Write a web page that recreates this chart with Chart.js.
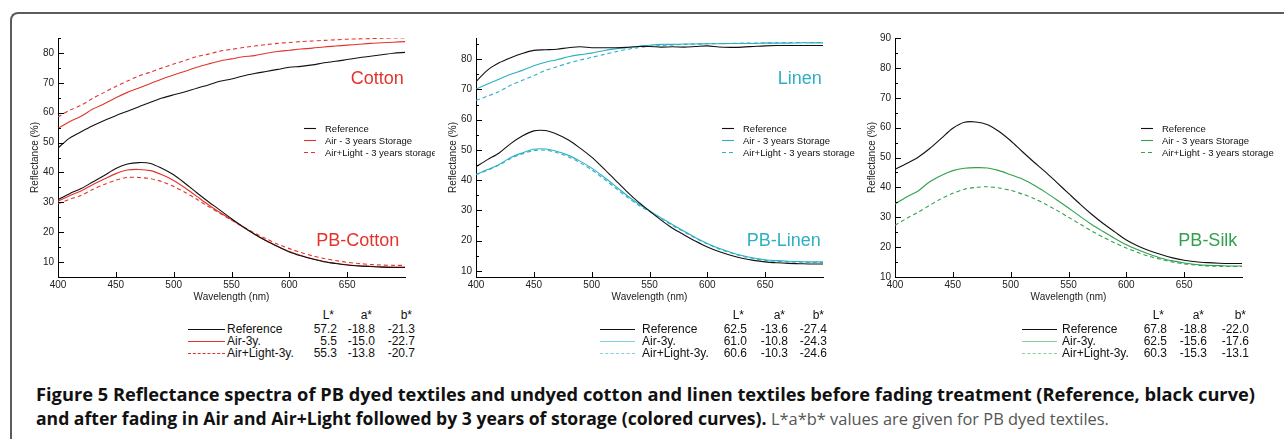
<!DOCTYPE html>
<html>
<head>
<meta charset="utf-8">
<script src="https://cdn.jsdelivr.net/npm/chart.js@4.4.0/dist/chart.umd.min.js"></script>
<style>
  body { margin: 0; width: 1284px; height: 439px; background: #fff; overflow: hidden; position: relative; font-family: "Liberation Sans", Arial, sans-serif; }
  .frame { position: absolute; left: 10px; top: 12px; width: 1400px; height: 600px; border-top: 2px solid #5c5c5c; border-left: 2px solid #5c5c5c; border-top-left-radius: 8px; }
  canvas.panel { position: absolute; }
  .cell { position: absolute; font-size: 12px; line-height: 14px; color: #111; white-space: nowrap; }
  .swatch { position: absolute; height: 0; }
  .caption { position: absolute; left: 36px; font-family: "Open Sans", sans-serif; font-size: 17px; line-height: 25px; color: #111; white-space: nowrap; }
  .caption b { font-weight: 700; }
  .caption span { color: #555; font-weight: 400; }
</style>
</head>
<body>
<div class="frame"></div>
<canvas id="cottonChart" class="panel" width="420" height="280" style="left:15px;top:28px"></canvas>
<canvas id="linenChart" class="panel" width="435" height="280" style="left:433px;top:28px"></canvas>
<canvas id="silkChart" class="panel" width="432" height="280" style="left:852px;top:28px"></canvas>
<div id="tables"></div>
<div class="caption" style="top:381px"><b id="capLine1">Figure 5 Reflectance spectra of PB dyed textiles and undyed cotton and linen textiles before fading treatment (Reference, black curve)</b></div>
<div class="caption" style="top:406px"><b id="capLine2">and after fading in Air and Air+Light followed by 3 years of storage (colored curves).</b> <span id="capGrey">L*a*b* values are given for PB dyed textiles.</span></div>
<script>
const wavelengths = [400, 410, 420, 430, 440, 450, 460, 470, 480, 490, 500, 510, 520, 530, 540, 550,
  560, 570, 580, 590, 600, 610, 620, 630, 640, 650, 660, 670, 680, 690, 700];
const xTicks = [400, 450, 500, 550, 600, 650];
const yTicksCotton = [10, 20, 30, 40, 50, 60, 70, 80];
const yTicksLinen = [10, 20, 30, 40, 50, 60, 70, 80];
const yTicksSilk = [10, 20, 30, 40, 50, 60, 70, 80, 90];

// cotton (undyed) and PB-cotton
const cottonRef = [48.2, 51.5, 53.6, 55.6, 57.4, 59.0, 60.5, 62.0, 63.5, 64.9, 66.0, 67.0, 68.2, 69.3, 70.5, 71.3,
  72.3, 73.1, 73.8, 74.5, 75.2, 75.5, 76.0, 76.7, 77.2, 77.8, 78.4, 78.9, 79.4, 79.9, 80.2];
const cottonAir = [54.7, 57.0, 58.8, 61.2, 63.0, 65.0, 66.8, 68.3, 69.8, 71.3, 72.6, 73.9, 75.2, 76.3, 77.3, 78.0,
  78.7, 79.1, 79.9, 80.5, 80.9, 81.3, 81.6, 82.0, 82.3, 82.6, 82.9, 83.2, 83.4, 83.6, 83.8];
const cottonAirLight = [58.6, 60.8, 62.5, 64.8, 66.8, 68.8, 70.6, 72.3, 73.6, 75.0, 76.3, 77.5, 78.8, 79.6, 80.6, 81.2,
  81.8, 82.3, 82.8, 83.2, 83.5, 83.8, 84.0, 84.2, 84.4, 84.6, 84.7, 84.8, 84.9, 85.0, 85.1];
const pbCottonRef = [30.9, 32.9, 34.6, 36.8, 39.0, 41.3, 42.8, 43.3, 43.0, 41.3, 39.2, 36.3, 33.2, 30.2, 27.4, 24.5,
  21.8, 19.3, 17.1, 15.2, 13.4, 12.1, 11.0, 10.1, 9.5, 9.0, 8.7, 8.5, 8.3, 8.2, 8.2];
const pbCottonAir = [30.3, 32.2, 33.8, 35.9, 37.8, 39.6, 40.8, 41.0, 40.6, 39.2, 37.3, 34.8, 32.0, 29.2, 26.6, 24.2,
  21.7, 19.3, 17.1, 15.2, 13.5, 12.2, 11.1, 10.2, 9.6, 9.1, 8.8, 8.6, 8.4, 8.3, 8.3];
const pbCottonAirLight = [29.5, 31.0, 32.3, 34.3, 36.0, 37.4, 38.3, 38.3, 37.9, 36.9, 35.3, 33.3, 31.0, 28.6, 26.3, 24.0,
  21.8, 19.7, 17.8, 16.0, 14.5, 13.2, 12.1, 11.2, 10.5, 9.9, 9.5, 9.2, 9.0, 8.9, 8.9];

// linen (undyed) and PB-linen
const linenRef = [72.6, 76.4, 78.8, 80.5, 81.9, 82.9, 83.1, 83.3, 83.8, 84.1, 83.8, 83.8, 83.8, 83.9, 84.2, 84.2,
  84.0, 84.1, 84.0, 84.2, 84.4, 84.0, 83.9, 84.0, 84.2, 84.4, 84.5, 84.5, 84.5, 84.5, 84.5];
const linenAir = [70.1, 71.8, 73.4, 75.0, 76.3, 77.8, 79.0, 79.8, 80.8, 81.5, 82.0, 82.8, 83.4, 83.8, 84.2, 84.6,
  84.9, 84.9, 85.0, 85.0, 85.1, 85.1, 85.2, 85.2, 85.2, 85.3, 85.3, 85.3, 85.4, 85.4, 85.4];
const linenAirLight = [66.4, 67.8, 69.3, 71.4, 73.0, 74.6, 76.3, 77.5, 78.7, 79.7, 80.6, 81.5, 82.4, 83.2, 83.8, 84.2,
  84.5, 84.7, 84.9, 85.0, 85.1, 85.2, 85.2, 85.3, 85.3, 85.4, 85.4, 85.5, 85.5, 85.5, 85.5];
const pbLinenRef = [44.4, 46.8, 49.0, 52.1, 54.6, 56.3, 56.4, 55.2, 53.3, 50.6, 47.6, 44.0, 40.2, 36.4, 32.9, 29.8,
  26.8, 24.1, 21.9, 19.8, 17.9, 16.4, 15.2, 14.2, 13.5, 13.0, 12.7, 12.5, 12.4, 12.3, 12.3];
const pbLinenAir = [41.9, 43.5, 45.2, 47.5, 49.0, 50.2, 50.3, 49.5, 48.2, 46.3, 44.0, 41.2, 38.2, 35.1, 32.3, 29.9,
  27.5, 25.3, 23.1, 21.0, 19.1, 17.5, 16.2, 15.1, 14.3, 13.7, 13.4, 13.2, 13.1, 13.0, 13.0];
const pbLinenAirLight = [41.8, 43.3, 45.0, 47.2, 48.7, 49.8, 49.9, 49.1, 47.7, 45.8, 43.4, 40.6, 37.6, 34.6, 31.9, 29.6,
  27.3, 25.0, 22.9, 20.8, 18.9, 17.3, 16.0, 14.9, 14.1, 13.5, 13.2, 13.0, 12.9, 12.8, 12.8];

// PB-silk
const pbSilkRef = [46.0, 48.0, 50.1, 53.0, 56.4, 59.8, 61.8, 61.9, 61.0, 58.7, 55.6, 52.0, 48.5, 45.2, 41.6, 38.0,
  34.4, 31.0, 27.9, 25.1, 22.4, 20.4, 18.8, 17.5, 16.4, 15.6, 15.1, 14.8, 14.6, 14.5, 14.5];
const pbSilkAir = [34.4, 36.8, 38.8, 41.9, 44.0, 45.6, 46.4, 46.6, 46.5, 45.6, 44.2, 42.8, 40.8, 38.4, 35.8, 33.1,
  30.3, 27.6, 25.2, 22.9, 20.8, 19.1, 17.6, 16.3, 15.4, 14.7, 14.2, 13.9, 13.8, 13.7, 13.7];
const pbSilkAirLight = [27.3, 29.6, 31.7, 34.0, 36.2, 38.0, 39.4, 40.0, 40.2, 39.8, 39.0, 37.8, 36.3, 34.4, 32.3, 30.0,
  27.7, 25.4, 23.3, 21.4, 19.7, 18.2, 16.9, 15.9, 15.0, 14.4, 14.0, 13.7, 13.6, 13.5, 13.5];

const seriesLabels = ["Reference", "Air - 3 years Storage", "Air+Light - 3 years storage"];
const tableRows = ["Reference", "Air-3y.", "Air+Light-3y."];
const tableHeaders = ["L*", "a*", "b*"];
const cottonLab = [["57.2", "-18.8", "-21.3"], ["5.5", "-15.0", "-22.7"], ["55.3", "-13.8", "-20.7"]];
const linenLab = [["62.5", "-13.6", "-27.4"], ["61.0", "-10.8", "-24.3"], ["60.6", "-10.3", "-24.6"]];
const silkLab = [["67.8", "-18.8", "-22.0"], ["62.5", "-15.6", "-17.6"], ["60.3", "-15.3", "-13.1"]];

const RED = "#e3342c", TEAL = "#2db0c4", GREEN = "#32a04d";

function series(label, values, color, dashed) {
  return {
    label: label,
    data: values.map((v, i) => ({ x: wavelengths[i], y: v })),
    borderColor: color,
    backgroundColor: color,
    borderWidth: 1.1,
    borderDash: dashed ? [4, 3] : [],
    pointRadius: 0,
    tension: 0.3,
    fill: false,
  };
}

// inward tick marks like the original plotting program
const tickMarks = {
  id: "tickMarks",
  afterDraw(chart) {
    const ctx = chart.ctx, xs = chart.scales.x, ys = chart.scales.y;
    ctx.save();
    ctx.strokeStyle = "#000";
    ctx.lineWidth = 1;
    ctx.beginPath();
    for (let v = Math.ceil(ys.min / 5) * 5; v <= ys.max; v += 5) {
      const py = Math.round(ys.getPixelForValue(v)) + 0.5;
      ctx.moveTo(xs.left, py);
      ctx.lineTo(xs.left + (v % 10 === 0 ? 6 : 3), py);
    }
    xs.ticks.forEach((t) => {
      const px = Math.round(xs.getPixelForValue(t.value)) + 0.5;
      ctx.moveTo(px, ys.bottom);
      ctx.lineTo(px, ys.bottom - 5);
    });
    ctx.stroke();
    ctx.restore();
  },
};

const panelText = {
  id: "panelText",
  afterDraw(chart, args, opts) {
    const ctx = chart.ctx, xs = chart.scales.x, ys = chart.scales.y;
    ctx.save();
    // sample names
    ctx.font = "18px 'Liberation Sans', Arial, sans-serif";
    ctx.fillStyle = opts.color;
    ctx.textAlign = "right";
    ctx.textBaseline = "middle";
    opts.names.forEach((n) => {
      ctx.fillText(n.text, xs.getPixelForValue(n.x), ys.getPixelForValue(n.y));
    });
    // legend from the first three datasets
    ctx.font = "9.5px 'Liberation Sans', Arial, sans-serif";
    ctx.textAlign = "left";
    ctx.fillStyle = "#111";
    chart.data.datasets.slice(0, 3).forEach((ds, i) => {
      const y = opts.legendTop + i * 12;
      ctx.strokeStyle = ds.borderColor;
      ctx.lineWidth = 1.1;
      ctx.setLineDash(ds.borderDash);
      ctx.beginPath();
      ctx.moveTo(xs.left + 246, y + 0.5);
      ctx.lineTo(xs.left + 258, y + 0.5);
      ctx.stroke();
      ctx.fillText(ds.label, xs.left + 267, y + 1);
    });
    ctx.restore();
  },
};

function makeChart(id, datasets, yMin, yMax, yTicks, color, names, rightPad) {
  const ctx = document.getElementById(id).getContext("2d");
  const tickFont = { family: "'Liberation Sans', Arial, sans-serif", size: 10 };
  return new Chart(ctx, {
    type: "line",
    data: { datasets: datasets },
    plugins: [tickMarks, panelText],
    options: {
      responsive: false,
      animation: false,
      layout: { padding: { top: 6, right: rightPad, left: 0, bottom: 0 } },
      plugins: {
        legend: { display: false },
        tooltip: { enabled: false },
        panelText: { color: color, names: names, legendTop: 100 },
      },
      scales: {
        x: {
          type: "linear",
          min: 400,
          max: 700,
          grid: { display: false, drawTicks: false },
          border: { display: true, color: "#000", width: 1 },
          ticks: { padding: 2, color: "#222", font: tickFont, maxRotation: 0 },
          afterBuildTicks: (s) => { s.ticks = xTicks.map((v) => ({ value: v })); },
          title: { display: true, text: "Wavelength (nm)", color: "#222", font: tickFont, padding: { top: 0, bottom: 5 } },
          afterFit: (s) => { s.height = 31; },
        },
        y: {
          min: yMin,
          max: yMax,
          grid: { display: false, drawTicks: false },
          border: { display: true, color: "#000", width: 1 },
          ticks: { padding: 4, color: "#222", font: tickFont },
          afterBuildTicks: (s) => { s.ticks = yTicks.map((v) => ({ value: v })); },
          title: { display: true, text: "Reflectance (%)", color: "#222", font: tickFont, padding: { top: 14, bottom: 0 } },
          afterFit: (s) => { s.width = 43; },
        },
      },
    },
  });
}

makeChart("cottonChart", [
  series(seriesLabels[0], cottonRef, "#111", false),
  series(seriesLabels[1], cottonAir, RED, false),
  series(seriesLabels[2], cottonAirLight, RED, true),
  series(seriesLabels[0], pbCottonRef, "#111", false),
  series(seriesLabels[1], pbCottonAir, RED, false),
  series(seriesLabels[2], pbCottonAirLight, RED, true),
], 5, 85, yTicksCotton, RED, [{ text: "Cotton", x: 699, y: 71.2 }, { text: "PB-Cotton", x: 695, y: 17.1 }], 30);

makeChart("linenChart", [
  series(seriesLabels[0], linenRef, "#111", false),
  series(seriesLabels[1], linenAir, TEAL, false),
  series(seriesLabels[2], linenAirLight, TEAL, true),
  series(seriesLabels[0], pbLinenRef, "#111", false),
  series(seriesLabels[1], pbLinenAir, TEAL, false),
  series(seriesLabels[2], pbLinenAirLight, TEAL, true),
], 8, 87, yTicksLinen, TEAL, [{ text: "Linen", x: 699, y: 73.4 }, { text: "PB-Linen", x: 698, y: 20 }], 45);

makeChart("silkChart", [
  series(seriesLabels[0], pbSilkRef, "#111", false),
  series(seriesLabels[1], pbSilkAir, GREEN, false),
  series(seriesLabels[2], pbSilkAirLight, GREEN, true),
], 10, 90, yTicksSilk, GREEN, [{ text: "PB-Silk", x: 696, y: 22 }], 42);

// L*a*b* tables under each panel
function makeTable(lab, color, lineLeft, lineWidth, textLeft, colRight) {
  const box = document.getElementById("tables");
  const rowY = [329, 341, 353];
  const lineStyles = ["1px solid #111", "1px solid " + color, "1px dashed " + color];
  tableHeaders.forEach((h, c) => {
    const d = document.createElement("div");
    d.className = "cell";
    d.textContent = h;
    d.style.top = 315 - 7 + "px";
    d.style.right = 1284 - colRight[c] + 3 + "px";
    box.appendChild(d);
  });
  tableRows.forEach((name, r) => {
    const sw = document.createElement("div");
    sw.className = "swatch";
    sw.style.left = lineLeft + "px";
    sw.style.width = lineWidth + "px";
    sw.style.top = rowY[r] + "px";
    sw.style.borderTop = lineStyles[r];
    box.appendChild(sw);
    const t = document.createElement("div");
    t.className = "cell";
    t.textContent = name;
    t.style.left = textLeft + "px";
    t.style.top = rowY[r] - 7 + "px";
    box.appendChild(t);
    lab[r].forEach((v, c) => {
      const d = document.createElement("div");
      d.className = "cell";
      d.textContent = v;
      d.style.top = rowY[r] - 7 + "px";
      d.style.right = 1284 - colRight[c] + "px";
      box.appendChild(d);
    });
  });
}

makeTable(cottonLab, RED, 188, 37, 227, [337, 375, 415]);
makeTable(linenLab, "#7fcfdc", 600, 35, 642, [747, 788, 827]);
makeTable(silkLab, "#86cf9a", 1022, 35, 1062, [1167, 1207, 1249]);

// fit the caption pieces to their printed widths
function fitWidth(el, target) {
  const w = el.getBoundingClientRect().width;
  el.style.fontSize = (17 * target / w).toFixed(2) + "px";
}
fitWidth(document.getElementById("capLine1"), 1220);
fitWidth(document.getElementById("capLine2"), 731);
fitWidth(document.getElementById("capGrey"), 338);
</script>
</body>
</html>
